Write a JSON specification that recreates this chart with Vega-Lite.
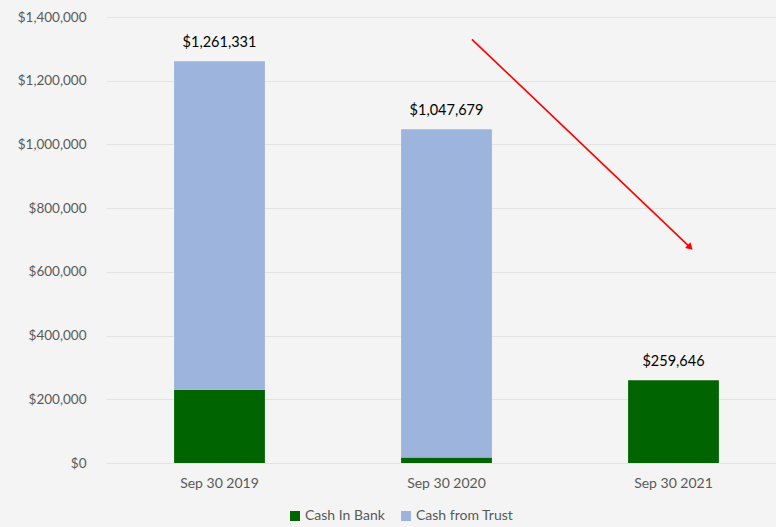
{
  "$schema": "https://vega.github.io/schema/vega-lite/v6.json",
  "autosize": {"type": "none"},
  "width": 670,
  "height": 446,
  "padding": {"left": 106, "top": 17, "right": 0, "bottom": 64},
  "background": "#f4f4f4",
  "config": {
    "view": {"stroke": null},
    "font": "Lato",
    "axis": {"labelFont": "Lato", "labelColor": "#595959", "labelFontSize": 14, "domain": false, "ticks": false, "title": null, "gridColor": "#e3e3e3", "gridWidth": 1},
    "legend": {"labelFont": "Lato", "labelColor": "#595959", "labelFontSize": 14}
  },
  "datasets": {
    "bars": [
      {"date": "Sep 30 2019", "series": "Cash In Bank", "value": 230000},
      {"date": "Sep 30 2019", "series": "Cash from Trust", "value": 1031331},
      {"date": "Sep 30 2020", "series": "Cash In Bank", "value": 17000},
      {"date": "Sep 30 2020", "series": "Cash from Trust", "value": 1030679},
      {"date": "Sep 30 2021", "series": "Cash In Bank", "value": 259646},
      {"date": "Sep 30 2021", "series": "Cash from Trust", "value": 0}
    ],
    "totals": [
      {"date": "Sep 30 2019", "total": 1261331},
      {"date": "Sep 30 2020", "total": 1047679},
      {"date": "Sep 30 2021", "total": 259646}
    ],
    "arrow": [
      {"x1": 1.612, "y1": 1330000, "x2": 2.57, "y2": 679000}
    ]
  },
  "layer": [
    {
      "layer": [
        {
          "data": {"name": "bars"},
          "mark": {"type": "bar"},
          "encoding": {
            "x": {"field": "date", "type": "nominal", "sort": null,
                  "scale": {"range": [0, 681], "paddingInner": 0.6, "paddingOuter": 0.3},
                  "axis": {"labelAngle": 0, "labelPadding": 13, "grid": false}},
            "y": {"field": "value", "type": "quantitative", "stack": "zero",
                  "scale": {"domain": [0, 1400000], "nice": false},
                  "axis": {"format": "$,.0f", "tickCount": 7, "labelPadding": 20, "labelFontSize": 13.5, "grid": true}},
            "color": {"field": "series", "type": "nominal",
                      "scale": {"domain": ["Cash In Bank", "Cash from Trust"], "range": ["#006400", "#9db4dc"]},
                      "legend": {"orient": "none", "legendX": 182, "legendY": 492, "direction": "horizontal", "title": null, "symbolType": "square", "symbolSize": 100, "columnPadding": 14, "labelOffset": 3}},
            "order": {"field": "series", "sort": "ascending"}
          }
        },
        {
          "data": {"name": "totals"},
          "mark": {"type": "text", "baseline": "bottom", "dy": -11, "fontSize": 14.5, "color": "#000000", "font": "Lato"},
          "encoding": {
            "x": {"field": "date", "type": "nominal", "sort": null},
            "y": {"field": "total", "type": "quantitative"},
            "text": {"field": "total", "type": "quantitative", "format": "$,.0f"}
          }
        }
      ]
    },
    {
      "data": {"name": "arrow"},
      "layer": [
        {
          "mark": {"type": "rule", "color": "#ff0000", "strokeWidth": 1.6},
          "encoding": {
            "x": {"field": "x1", "type": "quantitative", "scale": {"domain": [0, 3], "range": [0, 681]}, "axis": null},
            "y": {"field": "y1", "type": "quantitative"},
            "x2": {"field": "x2"},
            "y2": {"field": "y2"}
          }
        },
        {
          "mark": {"type": "point", "shape": "triangle", "filled": true, "color": "#ff0000", "opacity": 1, "size": 60, "angle": 133.6},
          "encoding": {
            "x": {"field": "x2", "type": "quantitative", "scale": {"domain": [0, 3], "range": [0, 681]}, "axis": null},
            "y": {"field": "y2", "type": "quantitative"}
          }
        }
      ]
    }
  ],
  "resolve": {"scale": {"x": "independent"}}
}
